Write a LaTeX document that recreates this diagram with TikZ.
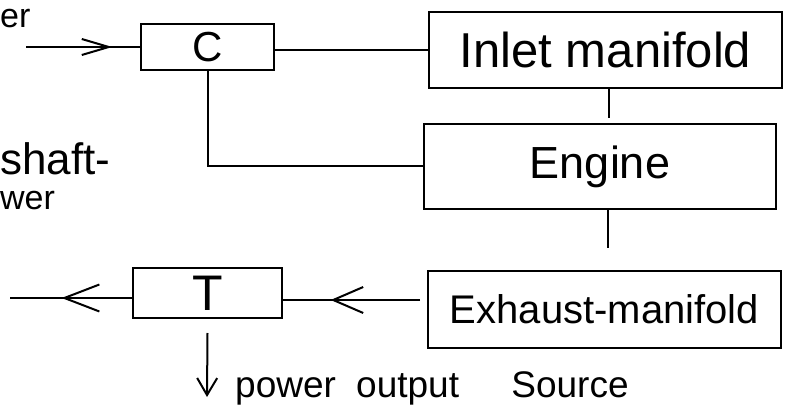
\documentclass[tikz,border=0pt]{standalone}
\usepackage{fontspec}
\setmainfont{Liberation Sans}
\usetikzlibrary{arrows.meta,decorations.markings}
\tikzset{
  blk/.style={draw, line width=2pt, inner sep=0pt},
  conn/.style={line width=2pt},
  midarr/.style 2 args={postaction={decorate}, decoration={markings, mark=at position #1 with {\arrow{#2}}}},
  lbl/.style={inner sep=0pt}
}
\begin{document}
\begin{tikzpicture}[x=1pt,y=1pt]
\fill[white] (0,0) rectangle (786,415);
\useasboundingbox (0,0) rectangle (786,415);
% boxes
\node[blk, minimum width=133pt, minimum height=46pt, font=\fontsize{42}{46}\selectfont] (C) at (207.5,368) {C};
\node[blk, minimum width=353pt, minimum height=76pt, font=\fontsize{49}{53}\selectfont] (inlet) at (605.5,365) {Inlet manifold};
\node[blk, minimum width=352pt, minimum height=85pt, font=\fontsize{45}{49}\selectfont] (engine) at (600,248.5) {Engine};
\node[blk, minimum width=353pt, minimum height=77pt, font=\fontsize{40}{44}\selectfont] (exh) at (604.5,105.5) {Exhaust-manifold};
\node[blk, minimum width=149pt, minimum height=50pt, font=\fontsize{50}{54}\selectfont] (T) at (207.5,122) {T};
% free ends
\coordinate (inS) at (26,368);
\coordinate (ie) at (609,297);
\coordinate (ee) at (608,167);
\coordinate (exL) at (420,115);
\coordinate (outL) at (10,117);
\coordinate (dS) at (207,82);
\coordinate (dE) at (207,18);
% connectors
\draw[conn, midarr={0.757}{Straight Barb[length=27pt,width=16pt]}] (inS) -- (C.west);
\draw[conn] (C.east |- inlet.west) -- (inlet.west);
\draw[conn] (inlet.south -| ie) -- (ie);
\draw[conn] (C.south) |- (engine.west);
\draw[conn] (engine.south -| ee) -- (ee);
\draw[conn, midarr={0.652}{Straight Barb[length=30pt,width=26pt]}] (exL) -- (T.east |- exL);
\draw[conn, midarr={0.577}{Straight Barb[length=35pt,width=27pt]}] (T.west |- outL) -- (outL);
\draw[conn, -{Straight Barb[length=17pt,width=20pt]}] (T.south |- dS) -- (dE);
% labels
\node[lbl, anchor=base west, font=\fontsize{34}{38}\selectfont] (er) at (0,387) {er};
\node[lbl, anchor=base west, font=\fontsize{44}{48}\selectfont] (shaft) at (0,240) {shaft-};
\node[lbl, anchor=base west, font=\fontsize{34}{38}\selectfont] (wer) at (0,205) {wer};
\node[lbl, anchor=base west, font=\fontsize{37}{41}\selectfont] (pos) at (235,18) {power \hspace{10pt}output \hspace{42pt}Source};
\end{tikzpicture}
\end{document}
